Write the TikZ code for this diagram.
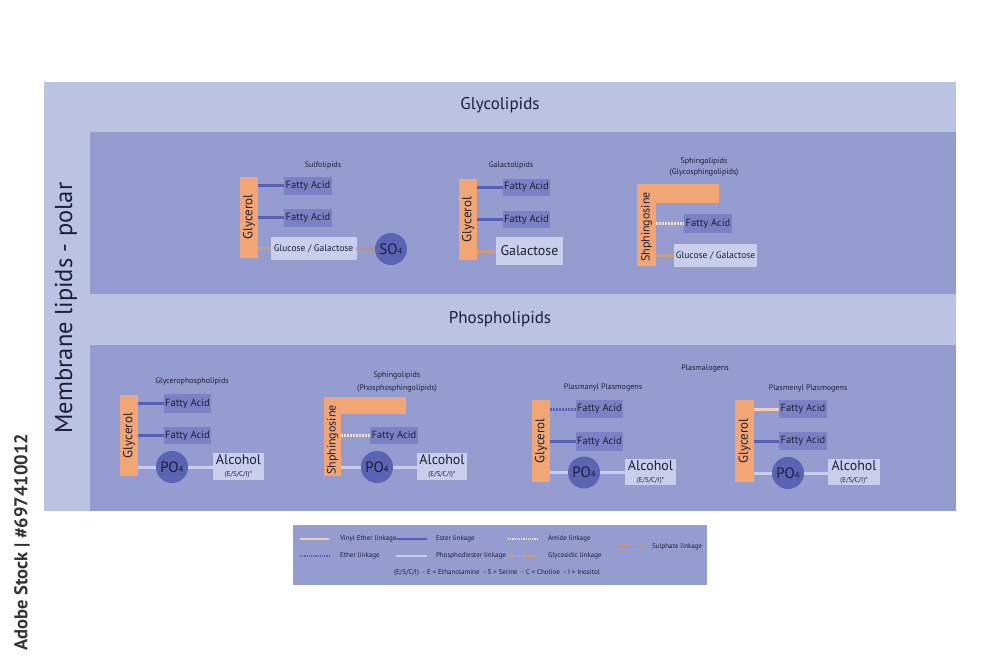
\documentclass[tikz,border=0pt]{standalone}
\usepackage{fontspec}
\setmainfont{PT Sans}
\definecolor{outerbg}{HTML}{BBC3E3}
\definecolor{panel}{HTML}{959CD0}
\definecolor{fabox}{HTML}{7A82C5}
\definecolor{ltbox}{HTML}{C9CEEC}
\definecolor{orng}{HTML}{F2A676}
\definecolor{circc}{HTML}{5A63B4}
\definecolor{esterc}{HTML}{5560B6}
\definecolor{phosc}{HTML}{C8CDEC}
\definecolor{vinylc}{HTML}{F7CFB0}
\definecolor{amidec}{HTML}{F3DFC8}
\definecolor{glycoc}{HTML}{E89A5C}
\definecolor{sulphc}{HTML}{D98A50}
\definecolor{txt}{HTML}{1E1F33}
\newcommand\fsz[1]{\fontsize{#1}{#1}\selectfont}
\begin{document}
\begin{tikzpicture}[x=1pt,y=-1pt,
  every node/.style={inner sep=0pt, outer sep=0pt, text=txt},
  fa/.style={fill=fabox, font=\fsz{10.5}, minimum width=48, minimum height=18},
  lt/.style={fill=ltbox},
  bar/.style={fill=orng},
  gly/.style={bar, minimum width=18, minimum height=81},
  vlabel/.style={rotate=90, font=\fsz{13}},
  po/.style={circle, fill=circc, minimum size=32, font=\fsz{15}},
  lbl/.style={font=\fsz{8}},
  ester/.style={draw=esterc, line width=3},
  phos/.style={draw=phosc, line width=3},
  ether/.style={draw=esterc, line width=3, dash pattern=on 1.5pt off 1.5pt},
  vinyl/.style={draw=vinylc, line width=3},
  amide/.style={draw=amidec, line width=3, dash pattern=on 1.5pt off 1.5pt},
  glyco/.style={draw=glycoc, line width=3, dash pattern=on 1.5pt off 1.5pt},
  sulph/.style={draw=sulphc, line width=3, dash pattern=on 1.5pt off 1.5pt},
  legtxt/.style={font=\fsz{7}, anchor=west},
  alc/.style={lt, minimum width=51, minimum height=27, align=center}
]
\useasboundingbox (0,0) rectangle (1000,667);
\fill[white] (0,0) rectangle (1000,667);

% background panels
\fill[outerbg] (44,82) rectangle (956,511);
\fill[panel] (90,132) rectangle (956,294);
\fill[panel] (90,345) rectangle (956,511);
\node[font=\fsz{17}] (t1) at (500,105) {Glycolipids};
\node[font=\fsz{17}] (t2) at (500,319) {Phospholipids};
\node[rotate=90, font=\fsz{24.5}] (side) at (66,308) {Membrane lipids - polar};
\node[rotate=90, font=\fsz{18.5}\bfseries, text=black!80] (wm) at (22,542) {Adobe Stock | \#697410012};

% ---------- Sulfolipids ----------
\node[lbl] (l1) at (323,165) {Sulfolipids};
\node[gly] (g1) at (249,217) {};
\node[vlabel] at (g1) {Glycerol};
\node[fa] (f1a) at (308,185.5) {Fatty Acid};
\node[fa] (f1b) at (308,217.5) {Fatty Acid};
\node[lt, minimum width=86, minimum height=23, font=\fsz{9.5}] (gg1) at (313.5,248.5) {Glucose / Galactose};
\node[po] (so4) at (391,249) {SO{\fsz{9}4}};
\draw[ester] (g1.east |- f1a.west) -- (f1a.west);
\draw[ester] (g1.east |- f1b.west) -- (f1b.west);
\draw[glyco] (g1.east |- gg1.west) -- (gg1.west);
\draw[sulph] (gg1.east) -- (so4.west);

% ---------- Galactolipids ----------
\node[lbl] (l2) at (511,165) {Galactolipids};
\node[gly] (g2) at (468,219.5) {};
\node[vlabel] at (g2) {Glycerol};
\node[fa, minimum width=47, minimum height=17] (f2a) at (526.5,187) {Fatty Acid};
\node[fa, minimum width=47, minimum height=17] (f2b) at (526.5,219.5) {Fatty Acid};
\node[lt, minimum width=67, minimum height=28, font=\fsz{14}] (gal) at (529.5,251) {Galactose};
\draw[ester] (g2.east |- f2a.west) -- (f2a.west);
\draw[ester] (g2.east |- f2b.west) -- (f2b.west);
\draw[glyco] (g2.east |- gal.west) -- (gal.west);

% ---------- Glycosphingolipids ----------
\node[lbl, align=center] (l3) at (704,167) {Sphingolipids\\[2.5pt](Glycosphingolipids)};
\node[bar, minimum width=82, minimum height=19] (s3top) at (678,193.5) {};
\node[bar, minimum width=19, minimum height=82] (s3) at (646.5,225) {};
\node[vlabel, font=\fsz{12}] at (646.5,227) {Shphingosine};
\node[fa, minimum height=19] (f3) at (708,223.5) {Fatty Acid};
\node[lt, minimum width=83, minimum height=23, font=\fsz{9.5}] (gg3) at (715.5,255.5) {Glucose / Galactose};
\draw[amide] (s3.east |- f3.west) -- (f3.west);
\draw[glyco] (s3.east |- gg3.west) -- (gg3.west);

% ---------- Glycerophospholipids ----------
\node[lbl] (l4) at (192,381) {Glycerophospholipids};
\node[gly] (g4) at (129,435.5) {};
\node[vlabel] at (g4) {Glycerol};
\node[fa, minimum width=47, minimum height=19] (f4a) at (187.5,403.5) {Fatty Acid};
\node[fa, minimum width=47, minimum height=17] (f4b) at (187.5,435.5) {Fatty Acid};
\node[po] (p4) at (172,467) {PO{\fsz{9}4}};
\node[alc] (a4) at (238.5,466.5) {{\fsz{14}Alcohol}\\[0pt]{\fsz{7}(E/S/C/I)*}};
\draw[ester] (g4.east |- f4a.west) -- (f4a.west);
\draw[ester] (g4.east |- f4b.west) -- (f4b.west);
\draw[phos] (g4.east |- p4.west) -- (p4.west);
\draw[phos] (p4.east) -- (p4.east -| a4.west);

% ---------- Phosphosphingolipids ----------
\node[lbl, align=center] (l5) at (397,382) {Sphingolipids\\[5pt](Phosphosphingolipids)};
\node[bar, minimum width=82, minimum height=17] (s5top) at (365,405.5) {};
\node[bar, minimum width=17, minimum height=79] (s5) at (332.5,436.5) {};
\node[vlabel, font=\fsz{12}] at (332.5,440) {Shphingosine};
\node[fa, minimum height=17] (f5) at (394,435.5) {Fatty Acid};
\node[po] (p5) at (377,467) {PO{\fsz{9}4}};
\node[alc, minimum width=50] (a5) at (442,466.5) {{\fsz{14}Alcohol}\\[0pt]{\fsz{7}(E/S/C/I)*}};
\draw[amide] (s5.east |- f5.west) -- (f5.west);
\draw[phos] (s5.east |- p5.west) -- (p5.west);
\draw[phos] (p5.east) -- (p5.east -| a5.west);

% ---------- Plasmalogens ----------
\node[lbl] (l6top) at (705,369) {Plasmalogens};

% Plasmanyl
\node[lbl] (l6) at (603,388) {Plasmanyl Plasmogens};
\node[gly, minimum height=82] (g6) at (541,441) {};
\node[vlabel] at (g6) {Glycerol};
\node[fa, minimum width=47] (f6a) at (599.5,409) {Fatty Acid};
\node[fa, minimum width=47, minimum height=19] (f6b) at (599.5,441.5) {Fatty Acid};
\node[po] (p6) at (584,472.5) {PO{\fsz{9}4}};
\node[alc, minimum height=26] (a6) at (650.5,472) {{\fsz{14}Alcohol}\\[0pt]{\fsz{7}(E/S/C/I)*}};
\draw[ether] (g6.east |- f6a.west) -- (f6a.west);
\draw[ester] (g6.east |- f6b.west) -- (f6b.west);
\draw[phos] (g6.east |- p6.west) -- (p6.west);
\draw[phos] (p6.east) -- (p6.east -| a6.west);

% Plasmenyl
\node[lbl] (l7) at (808,389) {Plasmenyl Plasmogens};
\node[gly, minimum width=19, minimum height=82] (g7) at (744.5,441) {};
\node[vlabel] at (g7) {Glycerol};
\node[fa] (f7a) at (803,409) {Fatty Acid};
\node[fa] (f7b) at (803,441) {Fatty Acid};
\node[po] (p7) at (788,473) {PO{\fsz{9}4}};
\node[alc, minimum width=52, minimum height=26] (a7) at (854,472) {{\fsz{14}Alcohol}\\[0pt]{\fsz{7}(E/S/C/I)*}};
\draw[vinyl] (g7.east |- f7a.west) -- (f7a.west);
\draw[ester] (g7.east |- f7b.west) -- (f7b.west);
\draw[phos] (g7.east |- p7.west) -- (p7.west);
\draw[phos] (p7.east) -- (p7.east -| a7.west);

% ---------- Legend ----------
\fill[panel] (293,525) rectangle (707,585);
\coordinate (v1) at (300,539); \coordinate (v2) at (329,539);
\coordinate (e1) at (396,539); \coordinate (e2) at (427,539);
\coordinate (t1a) at (300,556); \coordinate (t1b) at (330,556);
\coordinate (ph1) at (396,556); \coordinate (ph2) at (427,556);
\coordinate (am1) at (508,539); \coordinate (am2) at (538,539);
\coordinate (gl1) at (508,556); \coordinate (gl2) at (538,556);
\coordinate (su1) at (613,547); \coordinate (su2) at (643,547);
\draw[vinyl, line width=2] (v1) -- (v2);
\draw[ester, line width=2] (e1) -- (e2);
\draw[ether, line width=2, dash pattern=on 1.2pt off 1pt] (t1a) -- (t1b);
\draw[phos, line width=2] (ph1) -- (ph2);
\draw[amide, line width=2, dash pattern=on 1.2pt off 1pt] (am1) -- (am2);
\draw[glyco, line width=2, dash pattern=on 1.2pt off 1pt] (gl1) -- (gl2);
\draw[sulph, line width=2, dash pattern=on 1.2pt off 1pt] (su1) -- (su2);
\node[legtxt] (lt1) at (340,539) {Vinyl Ether linkage};
\node[legtxt] (lt2) at (436,539) {Ester linkage};
\node[legtxt] (lt3) at (340,556) {Ether linkage};
\node[legtxt] (lt4) at (436,556) {Phosphodiester linkage};
\node[legtxt] (lt5) at (548,539) {Amide linkage};
\node[legtxt] (lt6) at (548,556) {Glycosidic linkage};
\node[legtxt] (lt7) at (652,547) {Sulphate linkage};
\node[font=\fsz{7}] (lt8) at (497,573) {(E/S/C/I) \ - E = Ethanolamine \ - S = Serine \ - C = Choline \ - I = Inositol};
\end{tikzpicture}
\end{document}
